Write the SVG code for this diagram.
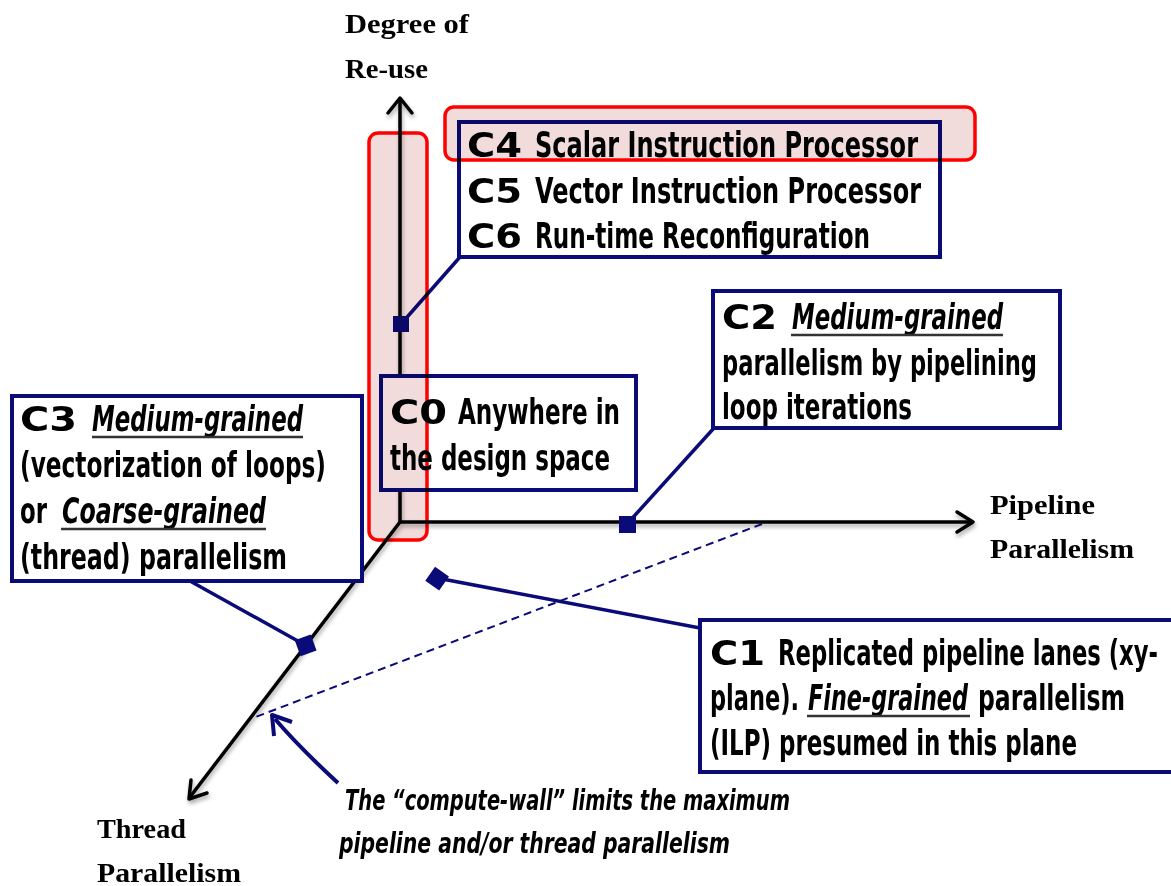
<svg xmlns="http://www.w3.org/2000/svg" width="1171" height="886" viewBox="0 0 1171 886">
  <style>
    .axis { stroke: #000; stroke-width: 3.5; fill: none; }
    .head { stroke: #000; stroke-width: 3.5; fill: none; stroke-linecap: round; stroke-linejoin: round; }
    .box { fill: #fff; stroke: #0a0a78; stroke-width: 4; }
    .lead { stroke: #0a0a78; stroke-width: 3.5; fill: none; }
    .mark { fill: #0a0a78; }
    .hl { fill: #f2dcdb; stroke: #ff0000; stroke-width: 3.5; mix-blend-mode: multiply; }
    .lbl { font-family: "DejaVu Sans", "Liberation Sans", sans-serif; font-weight: bold; font-size: 34px; fill: #000; }
    .txt { font-family: "Liberation Sans Narrow", "DejaVu Sans Condensed", "Liberation Sans", sans-serif; font-weight: bold; font-size: 35px; fill: #000; }
    .it { font-style: italic; }
    .ul { stroke: #333; stroke-width: 2.5; }
    .ax { font-family: "Liberation Serif", "DejaVu Serif", serif; font-weight: bold; font-size: 28px; fill: #000; }
    .note { font-family: "Liberation Sans Narrow", "DejaVu Sans Condensed", "Liberation Sans", sans-serif; font-weight: bold; font-style: italic; font-size: 29px; fill: #000; }
  </style>
  <defs>
    <filter id="soft" x="-5%" y="-5%" width="110%" height="120%">
      <feGaussianBlur in="SourceAlpha" stdDeviation="2"/>
      <feOffset dx="1" dy="3" result="b"/>
      <feComponentTransfer><feFuncA type="linear" slope="0.35"/></feComponentTransfer>
      <feMerge><feMergeNode/><feMergeNode in="SourceGraphic"/></feMerge>
    </filter>
  </defs>

  <rect width="1171" height="886" fill="#fff"/>

  <!-- axes -->
  <g id="axes" filter="url(#soft)">
    <line class="axis" x1="400" y1="522" x2="400" y2="99"/>
    <polyline class="head" points="388,113 400,98 412,113"/>
    <line class="axis" x1="400" y1="522" x2="972" y2="522"/>
    <polyline class="head" points="957,512 973,522 957,532"/>
    <line class="axis" x1="400" y1="522" x2="190" y2="797"/>
    <polyline class="head" points="191,780 189,799 207,793"/>
  </g>

  <!-- axis labels -->
  <g id="axis-labels">
    <text class="ax" x="345" y="33" textLength="124" lengthAdjust="spacingAndGlyphs">Degree of</text>
    <text class="ax" x="345" y="78" textLength="83" lengthAdjust="spacingAndGlyphs">Re-use</text>
    <text class="ax" x="990" y="514" textLength="105" lengthAdjust="spacingAndGlyphs">Pipeline</text>
    <text class="ax" x="990" y="558" textLength="144" lengthAdjust="spacingAndGlyphs">Parallelism</text>
    <text class="ax" x="97" y="838" textLength="89" lengthAdjust="spacingAndGlyphs">Thread</text>
    <text class="ax" x="97" y="882" textLength="144" lengthAdjust="spacingAndGlyphs">Parallelism</text>
  </g>

  <!-- connectors, compute-wall and markers -->
  <g id="connectors">
    <line class="lead" x1="401" y1="324" x2="460" y2="257"/>
    <line class="lead" x1="627" y1="524" x2="714" y2="428"/>
    <line class="lead" x1="305" y1="645" x2="190" y2="581"/>
    <line class="lead" x1="437" y1="578" x2="700" y2="628"/>
    <line x1="762" y1="524" x2="253" y2="718" stroke="#0a0a78" stroke-width="2" stroke-dasharray="8,5"/>
    <path d="M338,783 Q300,748 275,719" stroke="#0a0a78" stroke-width="4" fill="none"/>
    <polyline points="274,736 272,715 292,722" stroke="#0a0a78" stroke-width="4" fill="none" stroke-linejoin="round"/>
    <rect class="mark" x="393" y="316" width="16" height="16"/>
    <rect class="mark" x="619" y="516" width="17" height="17"/>
    <rect class="mark" x="297" y="637" width="17" height="17" transform="rotate(-20 305 645)"/>
    <rect class="mark" x="429" y="570" width="17" height="17" transform="rotate(35 437 578)"/>
  </g>

  <!-- C4 / C5 / C6 -->
  <g id="node-c456">
    <rect class="box" x="459" y="122" width="481" height="135"/>
    <text class="lbl" x="467" y="157" textLength="55" lengthAdjust="spacingAndGlyphs">C4</text>
    <text class="txt" x="535" y="157" textLength="383" lengthAdjust="spacingAndGlyphs">Scalar Instruction Processor</text>
    <text class="lbl" x="467" y="203" textLength="55" lengthAdjust="spacingAndGlyphs">C5</text>
    <text class="txt" x="535" y="203" textLength="386" lengthAdjust="spacingAndGlyphs">Vector Instruction Processor</text>
    <text class="lbl" x="467" y="248" textLength="55" lengthAdjust="spacingAndGlyphs">C6</text>
    <text class="txt" x="535" y="248" textLength="335" lengthAdjust="spacingAndGlyphs">Run-time Reconfiguration</text>
  </g>

  <!-- C0 -->
  <g id="node-c0">
    <rect class="box" x="381" y="376" width="255" height="114"/>
    <text class="lbl" x="390" y="424" textLength="57" lengthAdjust="spacingAndGlyphs">C0</text>
    <text class="txt" x="458" y="424" textLength="162" lengthAdjust="spacingAndGlyphs">Anywhere in</text>
    <text class="txt" x="390" y="470" textLength="220" lengthAdjust="spacingAndGlyphs">the design space</text>
  </g>

  <!-- C3 -->
  <g id="node-c3">
    <rect class="box" x="12" y="396" width="350" height="185"/>
    <text class="lbl" x="20" y="431" textLength="57" lengthAdjust="spacingAndGlyphs">C3</text>
    <text class="txt it" x="92" y="431" textLength="211" lengthAdjust="spacingAndGlyphs">Medium-grained</text>
    <line class="ul" x1="92" y1="437" x2="303" y2="437"/>
    <text class="txt" x="20" y="477" textLength="306" lengthAdjust="spacingAndGlyphs">(vectorization of loops)</text>
    <text class="txt" x="20" y="523" textLength="27" lengthAdjust="spacingAndGlyphs">or</text>
    <text class="txt it" x="62" y="523" textLength="204" lengthAdjust="spacingAndGlyphs">Coarse-grained</text>
    <line class="ul" x1="61" y1="529" x2="266" y2="529"/>
    <text class="txt" x="20" y="569" textLength="267" lengthAdjust="spacingAndGlyphs">(thread) parallelism</text>
  </g>

  <!-- C2 -->
  <g id="node-c2">
    <rect class="box" x="713" y="291" width="347" height="137"/>
    <text class="lbl" x="722" y="329" textLength="55" lengthAdjust="spacingAndGlyphs">C2</text>
    <text class="txt it" x="792" y="329" textLength="211" lengthAdjust="spacingAndGlyphs">Medium-grained</text>
    <line class="ul" x1="791" y1="335" x2="1003" y2="335"/>
    <text class="txt" x="722" y="375" textLength="315" lengthAdjust="spacingAndGlyphs">parallelism by pipelining</text>
    <text class="txt" x="722" y="419" textLength="190" lengthAdjust="spacingAndGlyphs">loop iterations</text>
  </g>

  <!-- C1 (box runs off the right edge) -->
  <g id="node-c1">
    <rect class="box" x="700" y="620" width="474" height="152"/>
    <text class="lbl" x="710" y="665" textLength="55" lengthAdjust="spacingAndGlyphs">C1</text>
    <text class="txt" x="778" y="665" textLength="380" lengthAdjust="spacingAndGlyphs">Replicated pipeline lanes (xy-</text>
    <text class="txt" x="710" y="710" textLength="89" lengthAdjust="spacingAndGlyphs">plane).</text>
    <text class="txt it" x="808" y="710" textLength="160" lengthAdjust="spacingAndGlyphs">Fine-grained</text>
    <line class="ul" x1="807" y1="716" x2="970" y2="716"/>
    <text class="txt" x="978" y="710" textLength="147" lengthAdjust="spacingAndGlyphs">parallelism</text>
    <text class="txt" x="710" y="755" textLength="367" lengthAdjust="spacingAndGlyphs">(ILP) presumed in this plane</text>
  </g>

  <!-- compute-wall note -->
  <g id="note-compute-wall">
    <text class="note" x="345" y="810" textLength="445" lengthAdjust="spacingAndGlyphs">The “compute-wall” limits the maximum</text>
    <text class="note" x="339" y="853" textLength="391" lengthAdjust="spacingAndGlyphs">pipeline and/or thread parallelism</text>
  </g>

  <!-- highlight frames, multiplied over the axis and the C4 row -->
  <g id="highlights">
    <rect class="hl" x="369" y="133" width="58" height="407" rx="9"/>
    <rect class="hl" x="445" y="107" width="530" height="53" rx="9"/>
  </g>
</svg>
